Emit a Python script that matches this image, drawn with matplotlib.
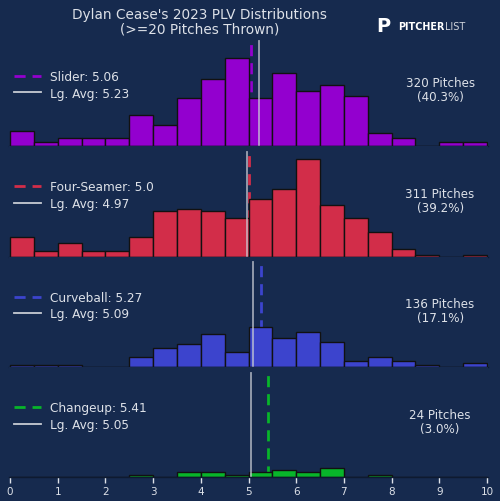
import numpy as np
import matplotlib
matplotlib.use("Agg")
import matplotlib.pyplot as plt
from matplotlib.lines import Line2D

# ---- data ----
bin_edges = np.arange(0, 10.01, 0.5)
pitch_names = ["Slider", "Four-Seamer", "Curveball", "Changeup"]
pitch_colors = ["#9300cf", "#d22d49", "#3c44cd", "#08b52a"]
pitch_plv = ["5.06", "5.0", "5.27", "5.41"]
league_avg = [5.23, 4.97, 5.09, 5.05]
pitch_counts = [320, 311, 136, 24]
pitch_pct = ["40.3%", "39.2%", "17.1%", "3.0%"]

slider_bins = [8, 2, 4, 4, 4, 16, 11, 25, 35, 46, 25, 38, 29, 32, 26, 7, 4, 0, 2, 2]
fourseam_bins = [10, 3, 7, 3, 3, 10, 24, 25, 24, 20, 30, 35, 51, 27, 20, 13, 4, 1, 0, 1]
curve_bins = [1, 1, 1, 0, 0, 5, 10, 12, 17, 8, 21, 15, 18, 13, 3, 5, 3, 1, 0, 2]
change_bins = [0, 0, 0, 0, 0, 1, 0, 3, 3, 1, 3, 4, 3, 5, 0, 1, 0, 0, 0, 0]
all_bins = [slider_bins, fourseam_bins, curve_bins, change_bins]

xticks = list(range(0, 11))

BG = "#162a4e"
TXT = "#dde1e8"

fig = plt.figure(figsize=(5, 5.02), dpi=100, facecolor=BG)
left, right = 0.018, 0.976
bottom, top = 0.047, 0.927
h = (top - bottom) / 4

ymax = max(max(b) for b in all_bins) * 1.13
centers = (bin_edges[:-1] + bin_edges[1:]) / 2

for i in range(4):
    ax = fig.add_axes([left, top - (i + 1) * h, right - left, h])
    ax.set_facecolor(BG)
    ax.hist(centers, bins=bin_edges, weights=all_bins[i], color=pitch_colors[i],
            edgecolor="#111111", linewidth=1.0, zorder=3)
    plv = float(pitch_plv[i])
    ax.axvline(plv, ymin=0, ymax=0.947, color=pitch_colors[i], linestyle="--",
               linewidth=2.0, dashes=(4, 2.5), zorder=2)
    ax.axvline(league_avg[i], ymin=0, ymax=0.947, color="#c8ccd4", alpha=0.75,
               linewidth=1.3, zorder=4)
    ax.set_xlim(-0.02, 10.02)
    ax.set_ylim(0, ymax)
    ax.set_yticks([])
    for s in ["top", "left", "right"]:
        ax.spines[s].set_visible(False)
    ax.spines["bottom"].set_color("#0e1a30")
    ax.spines["bottom"].set_linewidth(1.0)
    ax.spines["bottom"].set_zorder(5)
    if i < 3:
        ax.set_xticks([])
    else:
        ax.set_xticks(xticks)
        ax.set_xticklabels([str(t) for t in xticks])
        ax.tick_params(axis="x", colors=TXT, labelsize=7.5, length=4, width=1, pad=2)
    handles = [
        Line2D([0], [0], color=pitch_colors[i], linestyle="--", linewidth=2.0, dashes=(4, 2.5)),
        Line2D([0], [0], color="#c8ccd4", linewidth=1.3),
    ]
    labels = [f"{pitch_names[i]}: {pitch_plv[i]}", f"Lg. Avg: {league_avg[i]:.2f}"]
    leg = ax.legend(handles, labels, loc="center left", bbox_to_anchor=(-0.012, 0.555),
                    frameon=False, fontsize=8.7, handlelength=2.2, labelspacing=0.3,
                    handletextpad=0.8)
    for t in leg.get_texts():
        t.set_color(TXT)
    ax.text(0.9, 0.51, f"{pitch_counts[i]} Pitches\n({pitch_pct[i]})", transform=ax.transAxes,
            ha="center", va="center", color=TXT, fontsize=8.6, linespacing=1.1)

fig.text(0.4, 0.956, "Dylan Cease's 2023 PLV Distributions\n(>=20 Pitches Thrown)",
         ha="center", va="center", color=TXT, fontsize=9.8, linespacing=1.1)

# logo imitation
fig.text(0.752, 0.948, "P", ha="left", va="center", color="white", fontsize=14,
         fontweight="bold")
fig.text(0.796, 0.946, "PITCHER", ha="left", va="center", color="white", fontsize=6.9,
         fontweight="bold")
fig.text(0.890, 0.946, "LIST", ha="left", va="center", color="#d0d4dc", fontsize=6.9)

fig.savefig("out.png", dpi=100, facecolor=BG)
